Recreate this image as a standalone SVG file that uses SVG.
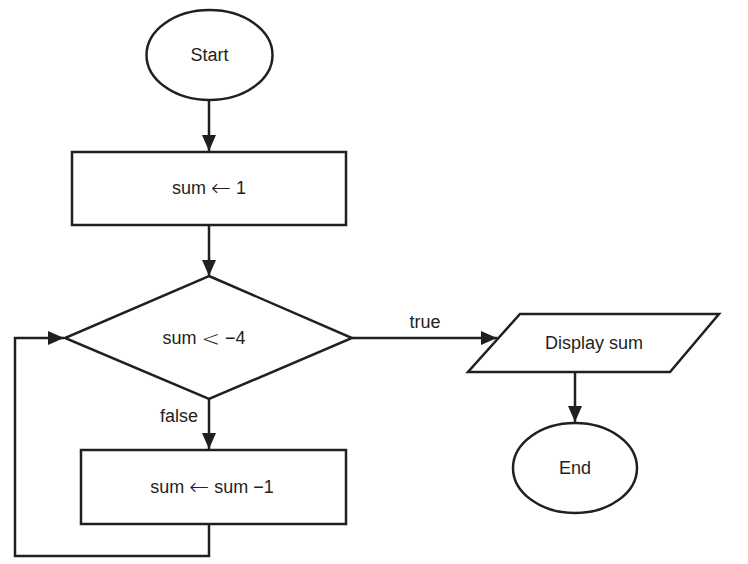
<svg xmlns="http://www.w3.org/2000/svg" width="748" height="564" viewBox="0 0 748 564">
<style>
.s{fill:#fff;stroke:#231f20;stroke-width:2.5}
.c{fill:none;stroke:#231f20;stroke-width:2.5}
text{font-family:"Liberation Sans",Arial,sans-serif;font-size:18px;fill:#231f20;text-anchor:middle;dominant-baseline:central}
.m{font-family:"DejaVu Sans",sans-serif;font-weight:200}
.ar{font-size:24px}
.lt{font-size:22px}
</style>
<defs>
<marker id="a" markerWidth="16" markerHeight="14" refX="16" refY="7" orient="auto" markerUnits="userSpaceOnUse">
<path d="M0,0 L16,7 L0,14 Z" fill="#231f20"/>
</marker>
</defs>
<rect width="748" height="564" fill="#fff"/>
<g id="connectors">
<line class="c" x1="209" y1="100" x2="209" y2="151" marker-end="url(#a)"/>
<line class="c" x1="209" y1="225" x2="209" y2="276" marker-end="url(#a)"/>
<line class="c" x1="209" y1="399" x2="209" y2="449" marker-end="url(#a)"/>
<polyline class="c" points="209,524 209,556 15,556 15,338 64,338" marker-end="url(#a)"/>
<line class="c" x1="352" y1="338" x2="497" y2="338" marker-end="url(#a)"/>
<line class="c" x1="575" y1="372" x2="575" y2="422" marker-end="url(#a)"/>
<text x="425" y="322">true</text>
<text x="179" y="416">false</text>
</g>
<g id="start"><ellipse class="s" cx="209.5" cy="55" rx="63" ry="45"/><text x="209.5" y="55">Start</text></g>
<g id="init"><rect class="s" x="72" y="152" width="274" height="73"/><text x="209" y="188">sum <tspan class="m ar">←</tspan> 1</text></g>
<g id="cond"><polygon class="s" points="209,276 352,338 209,399 65,338"/><text x="204" y="338">sum <tspan class="m lt">&lt;</tspan> −4</text></g>
<g id="dec"><rect class="s" x="81" y="450" width="265" height="74"/><text x="212" y="487">sum <tspan class="m ar">←</tspan> sum −1</text></g>
<g id="display"><polygon class="s" points="520,314 719,314 670,372 468,372"/><text x="594" y="343">Display sum</text></g>
<g id="end"><ellipse class="s" cx="575" cy="468" rx="62" ry="45"/><text x="575" y="468">End</text></g>
</svg>
